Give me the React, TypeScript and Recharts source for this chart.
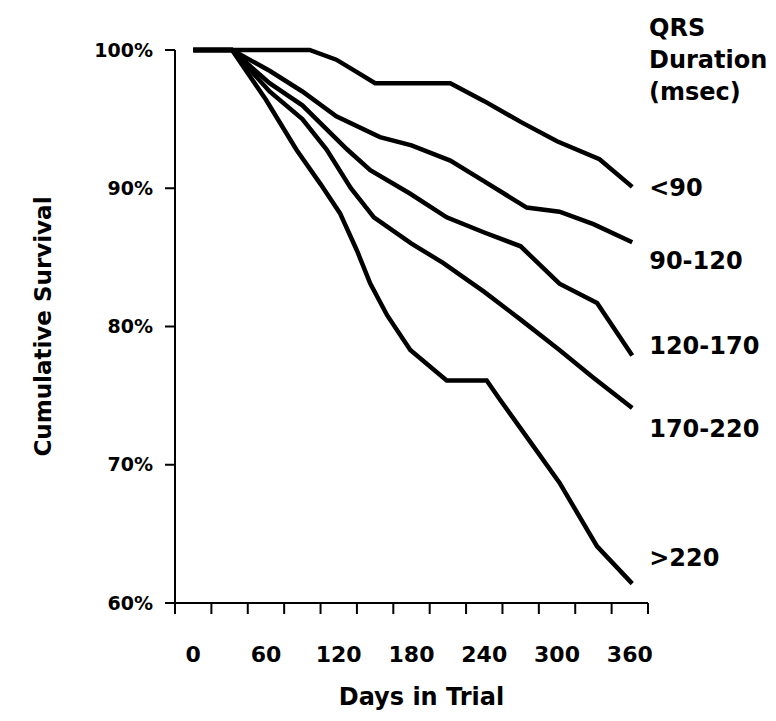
import { LabelList, Line, LineChart, XAxis, YAxis } from "recharts";

// days in trial / cumulative survival (%)
const lt90Days = [0, 32, 96, 118, 135, 150, 212, 240, 270, 300, 335, 362];
const lt90Surv = [100, 100, 100, 99.3, 98.4, 97.6, 97.6, 96.3, 94.8, 93.4, 92.1, 90.1];

const d90to120Days = [0, 32, 63, 90, 118, 154, 180, 212, 240, 275, 302, 330, 362];
const d90to120Surv = [100, 100, 98.5, 97, 95.2, 93.7, 93.1, 92, 90.5, 88.6, 88.3, 87.4, 86.1];

const d120to170Days = [0, 32, 63, 90, 127, 146, 179, 209, 240, 270, 302, 333, 362];
const d120to170Surv = [100, 100, 97.6, 96, 92.8, 91.3, 89.6, 87.9, 86.8, 85.8, 83.1, 81.7, 77.9];

const d170to220Days = [0, 32, 63, 90, 110, 130, 149, 180, 206, 240, 270, 302, 330, 362];
const d170to220Surv = [100, 100, 97, 95, 92.8, 90, 87.9, 86, 84.6, 82.5, 80.5, 78.3, 76.3, 74.1];

const gt220Days = [0, 32, 60, 85, 105, 121, 135, 146, 160, 179, 209, 242, 253, 280, 302, 333, 362];
const gt220Surv = [100, 100, 96.4, 92.8, 90.3, 88.2, 85.5, 83.1, 80.8, 78.3, 76.1, 76.1, 74.7, 71.4, 68.7, 64.1, 61.4];

const seriesNames = ["<90", "90-120", "120-170", "170-220", ">220"];
const yTicks = [60, 70, 80, 90, 100];
const xTickLabels = [0, 60, 120, 180, 240, 300, 360];
const xTickMarks = [-15, 15, 45, 75, 105, 135, 165, 195, 225, 255, 285, 315, 345, 375];

const zip = (days: number[], surv: number[]) => days.map((day, i) => ({ day, surv: surv[i] }));

const series = [
  zip(lt90Days, lt90Surv),
  zip(d90to120Days, d90to120Surv),
  zip(d120to170Days, d120to170Surv),
  zip(d170to220Days, d170to220Surv),
  zip(gt220Days, gt220Surv),
];

// vertical nudge of each end label relative to its line end
const labelDy = [0, 18, -10, 20, -26];

const FONT = "'DejaVu Sans', Verdana, sans-serif";
const allXTicks = [...xTickMarks, ...xTickLabels].sort((a, b) => a - b);

function XTick(props: any) {
  const { x, y, payload } = props;
  if (xTickLabels.includes(payload.value)) {
    return (
      <text x={x} y={y + 59} textAnchor="middle" fontFamily={FONT} fontWeight="bold" fontSize={22} fill="#000">
        {payload.value}
      </text>
    );
  }
  return <line x1={x} y1={y} x2={x} y2={y + 11} stroke="#000" strokeWidth={2} />;
}

function endLabel(idx: number, count: number) {
  return (props: any) => {
    const { x, y, index } = props;
    if (index !== count - 1) return null;
    return (
      <text x={x + 17} y={y + labelDy[idx]} dy="0.36em" fontFamily={FONT} fontWeight="bold" fontSize={24} fill="#000">
        {seriesNames[idx]}
      </text>
    );
  };
}

export default function App() {
  return (
    <div style={{ position: "relative", width: 768, height: 713, background: "#fff" }}>
      <LineChart width={768} height={713} margin={{ top: 42, right: 128, bottom: 58, left: 67 }}>
        <XAxis
          dataKey="day"
          type="number"
          domain={[-15, 375]}
          ticks={allXTicks}
          interval={0}
          tick={<XTick />}
          tickLine={false}
          tickSize={0}
          tickMargin={0}
          height={60}
          axisLine={{ stroke: "#000", strokeWidth: 2 }}
          allowDataOverflow
          label={{
            value: "Days in Trial",
            position: "insideBottom",
            offset: -42,
            dx: 10,
            fill: "#000",
            fontFamily: FONT,
            fontWeight: "bold",
            fontSize: 24,
          }}
        />
        <YAxis
          type="number"
          domain={[60, 100]}
          ticks={yTicks}
          width={100}
          tickFormatter={(v: number) => `${v}%`}
          tickSize={10}
          tickMargin={12}
          tick={{ fill: "#000", fontFamily: FONT, fontWeight: "bold", fontSize: 19 }}
          tickLine={{ stroke: "#000", strokeWidth: 2 }}
          axisLine={{ stroke: "#000", strokeWidth: 2 }}
          label={{
            value: "Cumulative Survival",
            angle: -90,
            position: "insideLeft",
            offset: 0,
            dx: -32,
            fill: "#000",
            fontFamily: FONT,
            fontWeight: "bold",
            fontSize: 23,
            style: { textAnchor: "middle" },
          }}
        />
        {series.map((data, i) => (
          <Line
            key={seriesNames[i]}
            data={data}
            dataKey="surv"
            type="linear"
            stroke="#000"
            strokeWidth={4.5}
            dot={false}
            isAnimationActive={false}
          >
            <LabelList dataKey="surv" content={endLabel(i, data.length)} />
          </Line>
        ))}
      </LineChart>
      <div
        style={{
          position: "absolute",
          left: 641,
          top: 4,
          fontFamily: FONT,
          fontWeight: "bold",
          fontSize: 24,
          lineHeight: "32px",
          color: "#000",
        }}
      >
        QRS
        <br />
        Duration
        <br />
        (msec)
      </div>
    </div>
  );
}
